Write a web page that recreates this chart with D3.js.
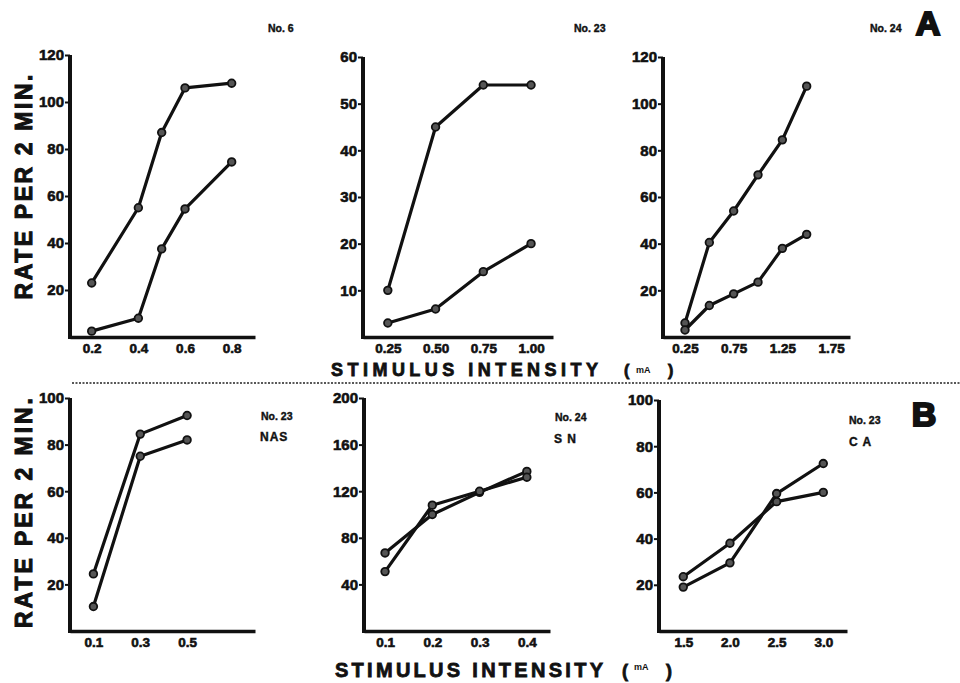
<!DOCTYPE html>
<html><head><meta charset="utf-8">
<script src="https://cdn.jsdelivr.net/npm/d3@7"></script>
<style>
body{margin:0;background:#fff;}
svg{display:block;}
text{font-family:"Liberation Sans",Arial,sans-serif;font-weight:bold;fill:#111;}
</style></head>
<body><svg id="c" width="960" height="683"></svg>
<script>
// ---- data ----
const p1X = [0.2, 0.4, 0.5, 0.6, 0.8];
const p1Upper = [23, 55, 87, 106, 108];
const p1Lower = [2.5, 8, 37.5, 54.5, 74.5];
const p1YTicks = [20, 40, 60, 80, 100, 120];
const p1XTicks = ["0.2", "0.4", "0.6", "0.8"];

const p2X = [0.25, 0.50, 0.75, 1.00];
const p2Upper = [10, 45, 54, 54];
const p2Lower = [3, 6, 14, 20];
const p2YTicks = [10, 20, 30, 40, 50, 60];
const p2XTicks = ["0.25", "0.50", "0.75", "1.00"];

const p3X = [0.25, 0.5, 0.75, 1.0, 1.25, 1.5];
const p3Upper = [6, 40.5, 54, 69.5, 84.5, 107.5];
const p3Lower = [3, 13.5, 18.5, 23.5, 38, 44];
const p3YTicks = [20, 40, 60, 80, 100, 120];
const p3XTicks = ["0.25", "0.75", "1.25", "1.75"];

const p4X = [0.1, 0.3, 0.5];
const p4Upper = [24.5, 84.5, 92.5];
const p4Lower = [10.5, 75, 82];
const p4YTicks = [20, 40, 60, 80, 100];
const p4XTicks = ["0.1", "0.3", "0.5"];

const p5X = [0.1, 0.2, 0.3, 0.4];
const p5SeriesA = [67, 100, 119, 137];
const p5SeriesB = [51, 108, 120, 132];
const p5YTicks = [40, 80, 120, 160, 200];
const p5XTicks = ["0.1", "0.2", "0.3", "0.4"];

const p6X = [1.5, 2.0, 2.5, 3.0];
const p6SeriesA = [23.5, 38, 56, 60];
const p6SeriesB = [19, 29.5, 59.5, 72.5];
const p6YTicks = [20, 40, 60, 80, 100];
const p6XTicks = ["1.5", "2.0", "2.5", "3.0"];

const yTitle = "RATE PER 2 MIN.";
const xTitle = "STIMULUS INTENSITY";
const unit = "mA";

// ---- layout ----
const svg = d3.select("#c");

const panels = [
  {x: p1X, s: [p1Upper, p1Lower], yt: p1YTicks, xt: p1XTicks, xd: [0.107, 0.9], xr: [70, 255], yd: [0, 120], yr: [337, 55],
   labels: [{t: "No. 6", x: 268, y: 32}]},
  {x: p2X, s: [p2Upper, p2Lower], yt: p2YTicks, xt: p2XTicks, xd: [0.12, 1.115], xr: [363, 553], yd: [0, 60], yr: [337, 57],
   labels: [{t: "No. 23", x: 574, y: 32}]},
  {x: p3X, s: [p3Upper, p3Lower], yt: p3YTicks, xt: p3XTicks, xd: [0.024, 1.945], xr: [663, 850], yd: [0, 120], yr: [337, 57],
   labels: [{t: "No. 24", x: 870, y: 32}]},
  {x: p4X, s: [p4Upper, p4Lower], yt: p4YTicks, xt: p4XTicks, xd: [0, 0.79], xr: [70, 255], yd: [0, 100], yr: [631, 398],
   labels: [{t: "No. 23", x: 261, y: 420}, {t: "NAS", x: 260, y: 441, big: true}]},
  {x: p5X, s: [p5SeriesA, p5SeriesB], yt: p5YTicks, xt: p5XTicks, xd: [0.0555, 0.449], xr: [364, 550], yd: [0, 200], yr: [631, 398],
   labels: [{t: "No. 24", x: 555, y: 421}, {t: "S N", x: 554, y: 443, big: true}]},
  {x: p6X, s: [p6SeriesA, p6SeriesB], yt: p6YTicks, xt: p6XTicks, xd: [1.24, 3.254], xr: [659, 847], yd: [0, 100], yr: [631, 400],
   labels: [{t: "No. 23", x: 849, y: 424}, {t: "C A", x: 849, y: 446, big: true}]}
];

panels.forEach(p => {
  const xs = d3.scaleLinear().domain(p.xd).range(p.xr);
  const ys = d3.scaleLinear().domain(p.yd).range(p.yr);
  const g = svg.append("g");

  // y axis
  const ya = g.append("g").attr("transform", `translate(${p.xr[0]},0)`)
    .call(d3.axisLeft(ys).tickValues(p.yt).tickSize(5).tickSizeOuter(0).tickPadding(1).tickFormat(d3.format("d")));
  ya.select(".domain").attr("stroke", "#111").attr("stroke-width", 4).attr("d", `M0,${p.yr[0] + 2}V${p.yr[1]}`);
  ya.selectAll(".tick line").attr("stroke", "#111").attr("stroke-width", 2);
  ya.selectAll(".tick text").style("font-size", "15px").attr("font-family", null).style("font-weight", "900")
    .attr("fill", "#111").attr("stroke", "#111").attr("stroke-width", 0.6);

  // x axis
  const xa = g.append("g").attr("transform", `translate(0,${p.yr[0]})`)
    .call(d3.axisBottom(xs).tickValues(p.xt.map(Number)).tickSize(0).tickSizeOuter(0).tickPadding(6)
      .tickFormat((d, i) => p.xt[i]));
  xa.select(".domain").attr("stroke", "#111").attr("stroke-width", 3.5);
  xa.selectAll(".tick text").style("font-size", "13.5px").attr("font-family", null).style("font-weight", "900")
    .attr("fill", "#111").attr("stroke", "#111").attr("stroke-width", 0.6);

  // series lines + markers
  const line = d3.line().x((d, i) => xs(p.x[i])).y(d => ys(d));
  p.s.forEach(vals => {
    g.append("path").attr("d", line(vals)).attr("fill", "none").attr("stroke", "#111")
      .attr("stroke-width", 3.2).attr("stroke-linejoin", "round");
    g.selectAll(null).data(vals).enter().append("circle")
      .attr("cx", (d, i) => xs(p.x[i])).attr("cy", d => ys(d)).attr("r", 3.8)
      .attr("fill", "#555").attr("stroke", "#111").attr("stroke-width", 1.8);
  });

  p.labels.forEach(l => {
    g.append("text").attr("x", l.x).attr("y", l.y).text(l.t)
      .style("font-size", l.big ? "12px" : "10.5px").style("font-weight", "900")
      .attr("stroke", "#111").attr("stroke-width", 0.4)
      .attr("letter-spacing", l.big ? 1 : 0);
  });
});

// y-axis titles
[[23, 187, 225], [23, 513, 230]].forEach(([x, y, len]) => {
  svg.append("text").attr("transform", `translate(${x + 9},${y}) rotate(-90)`)
    .attr("text-anchor", "middle").text(yTitle)
    .attr("textLength", len).attr("lengthAdjust", "spacing")
    .attr("stroke", "#111").attr("stroke-width", 1)
    .style("font-size", "23px").style("font-weight", "900");
});

// x-axis titles
function xTitleAt(x, baseline, len, fs, unitDy, parenX) {
  svg.append("text").attr("x", x).attr("y", baseline).text(xTitle)
    .attr("textLength", len).attr("lengthAdjust", "spacing")
    .attr("stroke", "#111").attr("stroke-width", 0.8)
    .style("font-size", fs + "px").style("font-weight", "900");
  svg.append("text").attr("x", parenX).attr("y", baseline).text("(").style("font-size", (fs - 2) + "px")
    .attr("stroke", "#111").attr("stroke-width", 0.8);
  svg.append("text").attr("x", parenX + 12).attr("y", baseline + unitDy).text(unit).style("font-size", "9px");
  svg.append("text").attr("x", parenX + 44).attr("y", baseline).text(")").style("font-size", (fs - 2) + "px")
    .attr("stroke", "#111").attr("stroke-width", 0.8);
}
xTitleAt(331, 376, 267, 18, -3, 624);
xTitleAt(335, 677, 268, 20, -7, 622);

// separator
svg.append("line").attr("x1", 72).attr("x2", 960).attr("y1", 383).attr("y2", 383)
  .attr("stroke", "#222").attr("stroke-width", 1.5).attr("stroke-dasharray", "2,1.5");

// panel letters
[["A", 928, 35], ["B", 924, 426]].forEach(([t, x, y]) => {
  svg.append("text").attr("x", x).attr("y", y).attr("text-anchor", "middle").text(t)
    .style("font-size", "34px").style("font-weight", "900")
    .attr("fill", "#666").attr("stroke", "#111").attr("stroke-width", 2.2);
});
</script></body></html>
